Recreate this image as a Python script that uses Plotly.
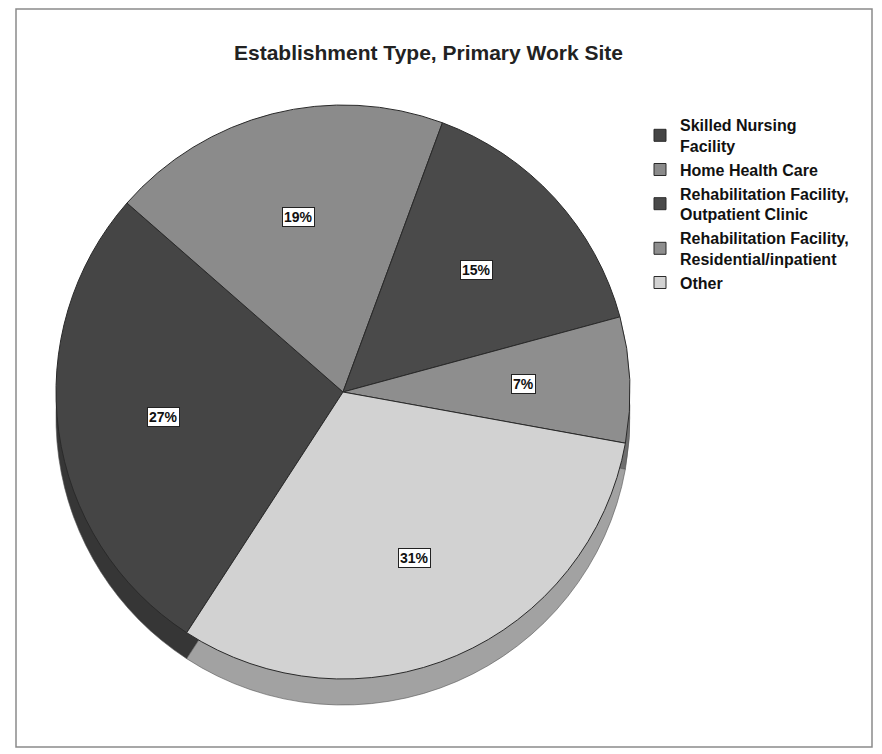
import math
import plotly.graph_objects as go

# Share of respondents by establishment type of the primary work site
categories = [
    "Skilled Nursing<br>Facility",
    "Home Health Care",
    "Rehabilitation Facility,<br>Outpatient Clinic",
    "Rehabilitation Facility,<br>Residential/inpatient",
    "Other",
]
percent_values = [27, 19, 15, 7, 31]

face_colors = ["#454545", "#8b8b8b", "#4a4a4a", "#8e8e8e", "#d2d2d2"]
side_colors = ["#363636", "#6e6e6e", "#383838", "#6f6f6f", "#a2a2a2"]

W, H = 882, 754
CX, CY, R = 343, 392, 287        # pie centre / radius in pixels
DEPTH = 26                       # visible thickness of the pie's side
START_ANGLE = 213                # clockwise from 12 o'clock
FONT = "Liberation Sans, Arial, sans-serif"


def domain(dy=0):
    return dict(
        x=[(CX - R) / W, (CX + R) / W],
        y=[(H - (CY + dy) - R) / H, (H - (CY + dy) + R) / H],
    )


fig = go.Figure()

# darker copy drawn lower, forming the 3-D rim
fig.add_trace(go.Pie(
    labels=categories, values=percent_values, sort=False,
    direction="clockwise", rotation=START_ANGLE,
    marker=dict(colors=side_colors, line=dict(color="#555555", width=0.6)),
    textinfo="none", hoverinfo="skip", showlegend=False,
    domain=domain(DEPTH),
))

# top face of the pie
fig.add_trace(go.Pie(
    labels=categories, values=percent_values, sort=False,
    direction="clockwise", rotation=START_ANGLE,
    marker=dict(colors=face_colors, line=dict(color="#2a2a2a", width=1)),
    textinfo="none", hoverinfo="label+percent",
    domain=domain(0),
))

# boxed percentage labels placed at each slice's mid-angle
total = sum(percent_values)
acc = 0.0
label_r = 0.63 * R
for v in percent_values:
    mid = START_ANGLE + (acc + v / 2) / total * 360
    acc += v
    t = math.radians(mid)
    px = CX + label_r * math.sin(t)
    py = CY - label_r * math.cos(t)
    fig.add_annotation(
        x=px / W, y=1 - py / H, xref="paper", yref="paper",
        xanchor="center", yanchor="middle",
        text=f"<b>{v}%</b>", showarrow=False,
        font=dict(family=FONT, size=14, color="#111111"),
        bgcolor="#ffffff", bordercolor="#222222", borderwidth=1, borderpad=1,
    )

fig.add_annotation(
    x=428 / W, y=1 - 52 / H, xref="paper", yref="paper",
    xanchor="center", yanchor="middle",
    text="<b>Establishment Type, Primary Work Site</b>", showarrow=False,
    font=dict(family=FONT, size=21, color="#222222"),
)

# outer chart border
fig.add_shape(
    type="rect", xref="paper", yref="paper",
    x0=16 / W, x1=872 / W, y0=1 - 747 / H, y1=1 - 9 / H,
    line=dict(color="#8a8a8a", width=1.5), fillcolor="rgba(0,0,0,0)",
)

fig.update_layout(
    width=W, height=H,
    margin=dict(l=0, r=0, t=0, b=0),
    paper_bgcolor="#ffffff", plot_bgcolor="#ffffff",
    legend=dict(
        x=640 / W, y=1 - 108 / H, xanchor="left", yanchor="top",
        font=dict(family=FONT, size=16, color="#111111", weight="bold"),
        bgcolor="rgba(0,0,0,0)", itemclick=False, itemdoubleclick=False,
        tracegroupgap=0,
    ),
)

fig.write_html("out.html")
